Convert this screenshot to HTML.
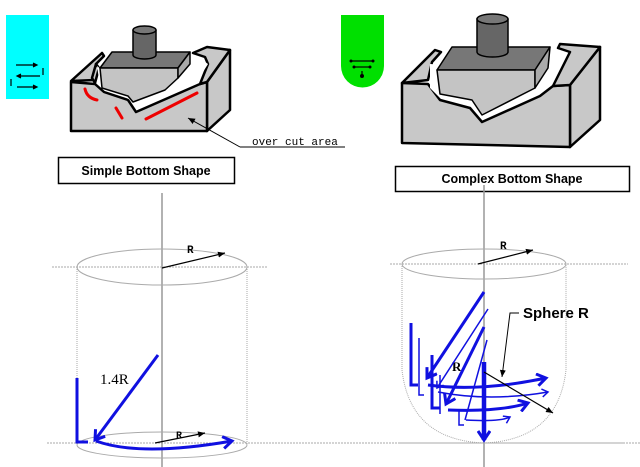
<!DOCTYPE html>
<html><head><meta charset="utf-8"><style>
body{margin:0;background:#fff;}
svg{display:block;}
</style></head><body>
<svg width="640" height="467" viewBox="0 0 640 467" xmlns="http://www.w3.org/2000/svg" font-family="Liberation Sans, sans-serif">
<defs>
<marker id="ak" markerWidth="8" markerHeight="8" refX="7" refY="4" orient="auto" markerUnits="userSpaceOnUse"><path d="M0,1 L7,4 L0,7 z" fill="#000"/></marker>
<marker id="ab" markerWidth="14" markerHeight="14" refX="10" refY="7" orient="auto" markerUnits="userSpaceOnUse"><path d="M1,1 L10,7 L1,13" fill="none" stroke="#1010e0" stroke-width="3"/></marker>
<marker id="abs" markerWidth="10" markerHeight="10" refX="7" refY="5" orient="auto" markerUnits="userSpaceOnUse"><path d="M1,1 L7,5 L1,9" fill="none" stroke="#1010e0" stroke-width="1.5"/></marker>
</defs>
<rect x="6" y="15" width="43" height="84" fill="#00ffff"/>
<g stroke="#000" stroke-width="1.2" fill="none">
<path d="M16,65 H36"/><path d="M33,63 L37,65 L33,67" fill="#000"/>
<path d="M18,76 H40"/><path d="M21,74 L17,76 L21,78" fill="#000"/>
<path d="M17,87 H36"/><path d="M33,85 L37,87 L33,89" fill="#000"/>
<path d="M43,68 V75"/><path d="M11,79 V86"/>
</g>
<path d="M341,15 H384 V66 A21.5,21.5 0 0 1 341,66 Z" fill="#00e000"/>
<g stroke="#000" stroke-width="1.2">
<path d="M351,61 H373"/><path d="M354,67 H370"/><path d="M362,71 V75"/>
</g>
<g fill="#000"><circle cx="351" cy="61" r="1.5"/><circle cx="373" cy="61" r="1.5"/><circle cx="354" cy="67" r="1.5"/><circle cx="370" cy="67" r="1.5"/><circle cx="362" cy="76" r="2"/></g>

<g stroke="#000" stroke-width="2.5" stroke-linejoin="round">
<path d="M207,82 L230,50 L230,110 L207,131 Z" fill="#c8c8c8"/>
<path d="M71,81 L102,53 L104,56 L96,64 L95,80 L71,81 Z" fill="#c8c8c8"/>
<path d="M71,82 L95,84 L104,92 L128,100 L136,112 L200,84 L207,82 L207,131 L71,131 Z" fill="#c8c8c8"/>
<path d="M95,83 L99,68 L96,64 L92,78 Z M200,84 L208,64 L205,57 L193,53 L207,47 L230,50 L207,82 Z" fill="#c8c8c8"/>
</g>
<path d="M97,66 L100,86 L128,96 L134,104 L198,80 L208,64 L195,55 L180,62 L175,72 L135,96 Z" fill="#fff"/>
<g stroke="#000" stroke-width="1.5" stroke-linejoin="round">
<path d="M100,68 L112,52 L190,52 L178,68 Z" fill="#777"/>
<path d="M100,68 L178,68 L178,78 L165,90 L133,102 L128,96 L102,88 Z" fill="#c4c4c4"/>
<path d="M178,68 L190,52 L190,64 L178,78 Z" fill="#aaa"/>
<path d="M133,30 V55 A11.5,4 0 0 0 156,55 V30 Z" fill="#666"/>
<ellipse cx="144.5" cy="30" rx="11.5" ry="4" fill="#777"/>
</g>
<g stroke="#e00" stroke-width="3" fill="none" stroke-linecap="round">
<path d="M85,89 Q87,98 97,100"/><path d="M116,108 L122,118"/><path d="M146,119 L197,93"/>
</g>
<path d="M240,147 L188,118" stroke="#000" stroke-width="1" marker-end="url(#ak)"/>
<path d="M240,147 H345" stroke="#000" stroke-width="1"/>
<text x="252" y="145" font-size="11" style="font-family:'Liberation Mono',monospace" fill="#000">over cut area</text>

<g stroke="#000" stroke-width="2.5" stroke-linejoin="round">
<path d="M570,85 L600,47 L600,120 L570,147 Z" fill="#c8c8c8"/>
<path d="M402,83 L435,50 L441,52 L432,62 L428,80 Z" fill="#c8c8c8"/>
<path d="M402,83 L428,84 L440,100 L470,108 L482,122 L540,96 L553,86 L570,85 L570,147 L402,143 Z" fill="#c8c8c8"/>
<path d="M553,86 L570,52 L558,48 L560,44 L600,47 L570,85 Z" fill="#c8c8c8"/>
</g>
<path d="M430,64 L430,88 L440,98 L470,105 L482,118 L538,92 L552,70 L560,53 L545,60 L530,70 Z" fill="#fff"/>
<g stroke="#000" stroke-width="1.5" stroke-linejoin="round">
<path d="M437,70 L452,47 L550,47 L535,70 Z" fill="#777"/>
<path d="M437,70 L535,70 L535,88 L482,115 L472,100 L440,94 Z" fill="#c4c4c4"/>
<path d="M535,70 L550,47 L548,68 L535,88 Z" fill="#aaa"/>
<path d="M477,19 V52 A15.5,5 0 0 0 508,52 V19 Z" fill="#666"/>
<ellipse cx="492.5" cy="19" rx="15.5" ry="5" fill="#777"/>
</g>

<rect x="58.5" y="157.5" width="176" height="26" fill="#fff" stroke="#000" stroke-width="1.5"/>
<text x="146" y="175" font-size="12.5" font-weight="bold" text-anchor="middle">Simple Bottom Shape</text>
<rect x="395.5" y="166.5" width="234" height="25" fill="#fff" stroke="#000" stroke-width="1.5"/>
<text x="512" y="183" font-size="12.5" font-weight="bold" text-anchor="middle">Complex Bottom Shape</text>

<g stroke="#aaa" stroke-width="1" fill="none">
<path d="M162,193 V467" stroke="#999" stroke-width="1.5"/>
<path d="M52,267 H267" stroke-dasharray="2,1"/>
<path d="M47,443 H640" stroke-dasharray="2,1"/>
<ellipse cx="162" cy="267" rx="85" ry="18"/>
<ellipse cx="162" cy="445" rx="85" ry="13"/>
<path d="M77,267 V445 M247,267 V445" stroke-dasharray="1,1"/>
</g>
<path d="M162,268 L225,253" stroke="#000" stroke-width="1.2" marker-end="url(#ak)"/>
<text x="187" y="253" font-size="11" font-weight="bold" style="font-family:'Liberation Mono',monospace">R</text>
<path d="M155,443 L205,433" stroke="#000" stroke-width="1.2" marker-end="url(#ak)"/>
<text x="176" y="438" font-size="10" font-weight="bold" style="font-family:'Liberation Mono',monospace">R</text>
<text x="100" y="384" font-size="15" style="font-family:'Liberation Serif',serif">1.4R</text>
<g stroke="#1010e0" stroke-width="3" fill="none">
<path d="M77,378 V442 H88"/>
<path d="M158,355 L95,440" marker-end="url(#ab)"/>
<path d="M96,441 Q140,457 232,441" marker-end="url(#ab)"/>
</g>

<g stroke="#aaa" stroke-width="1" fill="none">
<path d="M484,185 V467" stroke="#999" stroke-width="1.5"/>
<path d="M390,264 H628" stroke-dasharray="2,1"/>
<path d="M400,443 H625" stroke-dasharray="2,1"/>
<ellipse cx="484" cy="264" rx="82" ry="15"/>
<path d="M402,264 V370 Q410,440 484,443 Q558,440 566,370 V264" stroke-dasharray="1,1"/>
</g>
<path d="M478,264 L533,250" stroke="#000" stroke-width="1.2" marker-end="url(#ak)"/>
<text x="500" y="249" font-size="11" font-weight="bold" style="font-family:'Liberation Mono',monospace">R</text>
<text x="452" y="371" font-size="13" font-weight="bold" style="font-family:'Liberation Serif',serif">R</text>
<text x="523" y="318" font-size="15" font-weight="bold" fill="#000">Sphere R</text>
<path d="M519,313 H510 L502,377" stroke="#000" stroke-width="1" fill="none" marker-end="url(#ak)"/>
<g stroke="#1010e0" fill="none">
<path d="M411,323 V385 H418" stroke-width="3"/>
<path d="M419,338 V395 H424" stroke-width="1.5"/>
<path d="M432,355 V408 H440" stroke-width="3"/>
<path d="M440,375 V414" stroke-width="1.5"/>
<path d="M459,410 V425 H464" stroke-width="1.5"/>
<path d="M484,292 L427,378" stroke-width="3" marker-end="url(#ab)"/>
<path d="M488,309 L437,388" stroke-width="1.5" marker-end="url(#abs)"/>
<path d="M484,327 L446,404" stroke-width="3" marker-end="url(#ab)"/>
<path d="M487,340 L465,420" stroke-width="1.5"/>
<path d="M428,385 Q480,392 546,378" stroke-width="3" marker-end="url(#ab)"/>
<path d="M438,392 Q490,402 548,392" stroke-width="1.5" marker-end="url(#abs)"/>
<path d="M448,410 Q500,412 528,403" stroke-width="3" marker-end="url(#ab)"/>
<path d="M466,420 Q500,422 510,417" stroke-width="1.5" marker-end="url(#abs)"/>
<path d="M484,362 V440" stroke-width="4.5" marker-end="url(#ab)"/>
</g>
<path d="M484,372 L553,413" stroke="#000" stroke-width="1.2" marker-end="url(#ak)"/>
</svg>
</body></html>
